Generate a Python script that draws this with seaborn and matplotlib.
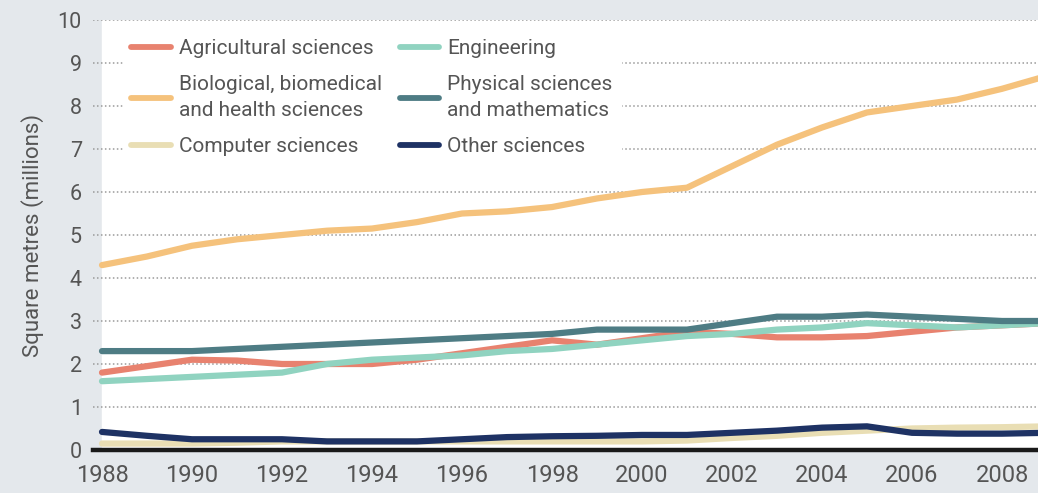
import numpy as np
import pandas as pd
import matplotlib
matplotlib.use("Agg")
import matplotlib.pyplot as plt
import seaborn as sns

# values (millions of square metres)
years = list(range(1988, 2010))
agricultural = [1.8, 1.95, 2.1, 2.08, 2.0, 2.0, 2.0, 2.1, 2.25, 2.4, 2.55, 2.45,
                2.6, 2.75, 2.7, 2.62, 2.62, 2.65, 2.75, 2.85, 2.9, 2.95]
biological = [4.3, 4.5, 4.75, 4.9, 5.0, 5.1, 5.15, 5.3, 5.5, 5.55, 5.65, 5.85,
              6.0, 6.1, 6.6, 7.1, 7.5, 7.85, 8.0, 8.15, 8.4, 8.7]
computer = [0.15, 0.15, 0.15, 0.17, 0.2, 0.2, 0.2, 0.2, 0.2, 0.2, 0.2, 0.2,
            0.2, 0.22, 0.28, 0.33, 0.4, 0.45, 0.5, 0.52, 0.53, 0.55]
engineering = [1.6, 1.65, 1.7, 1.75, 1.8, 2.0, 2.1, 2.15, 2.2, 2.3, 2.35, 2.45,
               2.55, 2.65, 2.7, 2.8, 2.85, 2.95, 2.9, 2.85, 2.9, 2.95]
physical = [2.3, 2.3, 2.3, 2.35, 2.4, 2.45, 2.5, 2.55, 2.6, 2.65, 2.7, 2.8,
            2.8, 2.8, 2.95, 3.1, 3.1, 3.15, 3.1, 3.05, 3.0, 3.0]
other = [0.42, 0.33, 0.25, 0.25, 0.25, 0.2, 0.2, 0.2, 0.25, 0.3, 0.32, 0.33,
         0.35, 0.35, 0.4, 0.45, 0.52, 0.55, 0.4, 0.38, 0.38, 0.4]

series_names = ["Agricultural sciences",
                "Biological, biomedical\nand health sciences",
                "Computer sciences",
                "Engineering",
                "Physical sciences\nand mathematics",
                "Other sciences"]
series_values = [agricultural, biological, computer, engineering, physical, other]
colours = ["#e8826f", "#f5c27c", "#e9deb4", "#90d3c0", "#4e7c84", "#1e3264"]
x_ticks = list(range(1988, 2009, 2))
y_ticks = list(range(0, 11))

# long-form table for seaborn
rows = []
for name, vals in zip(series_names, series_values):
    for yr, v in zip(years, vals):
        rows.append({"year": yr, "value": v, "field": name})
df = pd.DataFrame(rows)

bg = "#e4e8ec"
grey_txt = "#555555"

sns.set_style("white")
plt.rcParams["font.family"] = ["Roboto", "DejaVu Sans"]

fig = plt.figure(figsize=(10.38, 4.93), dpi=100, facecolor=bg)
ax = fig.add_axes([93 / 1038, 43 / 493, 945 / 1038, 430 / 493])
ax.set_facecolor(bg)

# white plotting panel starts at the first year
ax.axvspan(years[0], 2010, color="white", zorder=0)

sns.lineplot(data=df, x="year", y="value", hue="field", hue_order=series_names,
             palette=colours, linewidth=4.5, ax=ax, zorder=3)

ax.set_xlim(1987.8, 2008.8)
ax.set_ylim(0, 10)
ax.set_xticks(x_ticks)
ax.set_yticks(y_ticks)

for y in y_ticks[1:]:
    ax.axhline(y, color="#9a9a9a", linewidth=1.1, linestyle=(0, (1, 1.6)), zorder=1)

for side in ["top", "right", "left"]:
    ax.spines[side].set_visible(False)
ax.spines["bottom"].set_color("#1a1a1a")
ax.spines["bottom"].set_linewidth(3.2)
ax.spines["bottom"].set_zorder(5)

ax.tick_params(axis="x", direction="out", length=9, width=1, color="#9a9a9a",
               labelsize=17, labelcolor=grey_txt, pad=1)
ax.tick_params(axis="y", length=0, labelsize=15.5, labelcolor=grey_txt, pad=8)

ax.set_xlabel("")
ax.set_ylabel("Square metres (millions)", fontsize=16, color=grey_txt, labelpad=10)

handles, labels = ax.get_legend_handles_labels()
leg = ax.legend(handles, labels, ncol=2, loc="upper left",
                bbox_to_anchor=(30 / 945, 0.975), frameon=True, facecolor="white",
                edgecolor="white", framealpha=1, fontsize=15, handlelength=1.9,
                handletextpad=0.38, columnspacing=0.85, labelspacing=0.8,
                borderpad=0.4, borderaxespad=0)
for line in leg.get_lines():
    line.set_linewidth(4.2)
for t in leg.get_texts():
    t.set_color(grey_txt)
    t.set_linespacing(1.5)
leg.set_zorder(4)

fig.savefig("out.png", dpi=100, facecolor=bg)
